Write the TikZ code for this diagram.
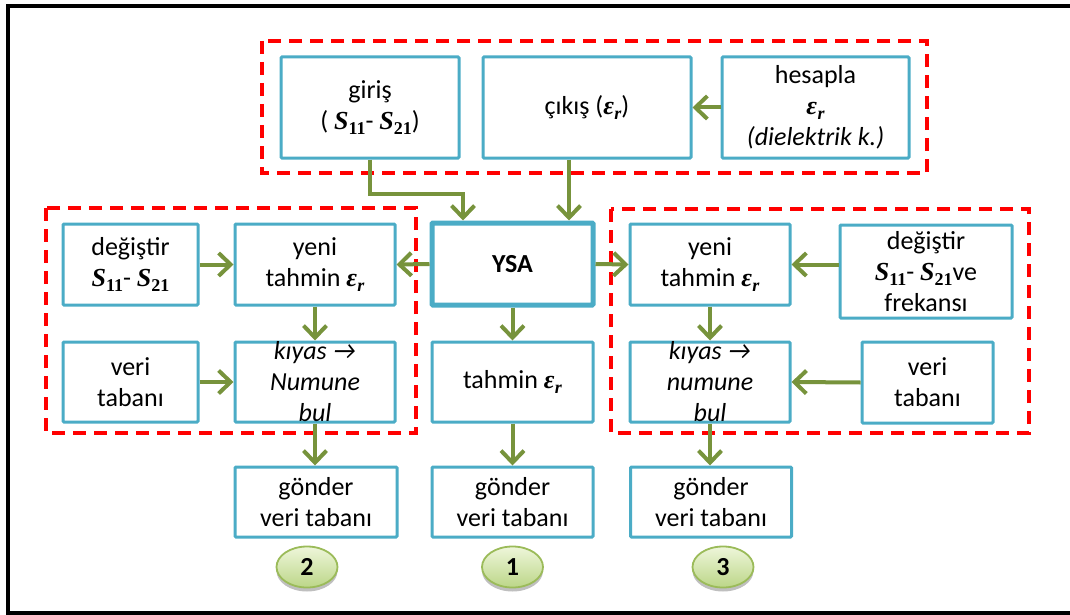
\documentclass[tikz,border=0pt]{standalone}
\usepackage[no-math]{fontspec}
\setmainfont{Carlito}
\newfontfamily\symfont{Liberation Serif}
\usetikzlibrary{arrows.meta,shapes.geometric,shadows,calc}

\definecolor{boxblue}{HTML}{4BACC6}
\definecolor{arrgreen}{HTML}{77933C}
\definecolor{dashred}{HTML}{FF0000}
\definecolor{ovalline}{HTML}{9BBB59}
\definecolor{ovaltop}{HTML}{EEF6DA}
\definecolor{ovalbot}{HTML}{BCD688}

% bold italic symbols for permittivity and S-parameters
\newcommand{\er}{{\symfont\bfseries\itshape ε\kern0.5pt\raisebox{-5pt}{\fontsize{18}{20}\selectfont r}}}
\newcommand{\Sp}[1]{{\symfont\bfseries\itshape S\raisebox{-5pt}{\fontsize{18}{20}\selectfont\upshape #1}}}

\tikzset{
  txt/.style={align=center, inner sep=0pt, text=black, font=\fontsize{26}{31}\selectfont},
  box/.style={txt, draw=boxblue, line width=3pt, fill=white, rounded corners=1pt},
  bigbox/.style={box, line width=5pt},
  group/.style={draw=dashred, line width=3.2pt, dash pattern=on 13pt off 8pt},
  arr/.style={draw=arrgreen, line width=4pt,
    -{Straight Barb[length=12pt, width=23pt]}},
  oval/.style={ellipse, draw=ovalline, line width=1.8pt, top color=ovaltop,
    bottom color=ovalbot, minimum width=61pt, minimum height=41pt, inner sep=0pt,
    text=black, font=\fontsize{26}{30}\selectfont\bfseries,
    drop shadow={shadow xshift=0pt, shadow yshift=-4pt, opacity=0.25, fill=black}}
}

\begin{document}
\begin{tikzpicture}[x=1pt, y=-1pt]
\useasboundingbox (0,0) rectangle (1070,615);

% outer frame
\draw[line width=3.5pt] (1070,6) -- (8,6) -- (8,613) -- (1070,613);

% dashed groups
\draw[group] (262,41) rectangle (927,173);
\draw[group] (46,208) rectangle (416,433);
\draw[group] (611,209) rectangle (1029,433);

% top row
\node[box, minimum width=178pt, minimum height=101pt] (giris) at (370,107.5)
  {giriş\\( \Sp{11}- \Sp{21})};
\node[box, minimum width=208pt, minimum height=101pt] (cikis) at (587,107.5)
  {çıkış (\er)};
\node[box, minimum width=187pt, minimum height=101pt] (hesapla) at (815.5,107.5)
  {hesapla\\\er\\\textit{(dielektrik k.)}};

% network
\node[bigbox, minimum width=161pt, minimum height=82pt] (ysa) at (512.5,264)
  {\textbf{YSA}};
\node[box, minimum width=161pt, minimum height=80pt] (tahmin) at (512.5,382)
  {tahmin \er};

% left branch
\node[box, minimum width=135pt, minimum height=81pt] (degL) at (130.5,264.5)
  {değiştir\\\Sp{11}- \Sp{21}};
\node[box, minimum width=160pt, minimum height=81pt] (yeniL) at (315,264.5)
  {yeni\\tahmin \er};
\node[box, minimum width=135pt, minimum height=80pt] (veriL) at (130.5,382)
  {veri\\tabanı};
\node[box, minimum width=160pt, minimum height=80pt,
  label={[txt, font=\fontsize{26}{31}\selectfont\itshape]center:kıyas →\\Numune\\bul}]
  (kiyasL) at (315,382) {};

% right branch
\node[box, minimum width=160pt, minimum height=81pt] (yeniR) at (710,264.5)
  {yeni\\tahmin \er};
\node[box, minimum width=172pt, minimum height=93pt] (degR) at (926,271.5)
  {değiştir\\\Sp{11}- \Sp{21}ve\\frekansı};
\node[box, minimum width=160pt, minimum height=80pt,
  label={[txt, font=\fontsize{26}{31}\selectfont\itshape]center:kıyas →\\numune\\bul}]
  (kiyasR) at (710,382) {};
\node[box, minimum width=131pt, minimum height=81pt] (veriR) at (927.5,382.5)
  {veri\\tabanı};

% outputs
\node[box, minimum width=162pt, minimum height=70pt] (gonL) at (316,502)
  {gönder\\veri tabanı};
\node[box, minimum width=161pt, minimum height=70pt] (gonC) at (512.5,502)
  {gönder\\veri tabanı};
\node[box, minimum width=161pt, minimum height=70pt] (gonR) at (711,502)
  {gönder\\veri tabanı};

\node[oval] (n2) at (307,567) {2};
\node[oval] (n1) at (512.5,567) {1};
\node[oval] (n3) at (723,567) {3};

% connectors
\draw[arr] (hesapla.west) -- (cikis.east);
\draw[arr] (giris.south) -- ++(0,34) -| ([xshift=-49.5pt]ysa.north);
\draw[arr] ([xshift=-18pt]cikis.south) -- ([xshift=-18pt]cikis.south |- ysa.north);
\draw[arr] (ysa.west) -- (yeniL.east);
\draw[arr] (ysa.east) -- (yeniR.west);
\draw[arr] (ysa.south) -- (tahmin.north);
\draw[arr] (tahmin.south) -- (gonC.north);

\draw[arr] (degL.east) -- (yeniL.west);
\draw[arr] (veriL.east) -- (kiyasL.west);
\draw[arr] (yeniL.south) -- (kiyasL.north);
\draw[arr] (kiyasL.south) -- (kiyasL.south |- gonL.north);

\draw[arr] (yeniR.east -| degR.west) -- (yeniR.east);
\draw[arr] (veriR.west) -- (kiyasR.east);
\draw[arr] (yeniR.south) -- (kiyasR.north);
\draw[arr] (kiyasR.south) -- (kiyasR.south |- gonR.north);
\end{tikzpicture}
\end{document}
